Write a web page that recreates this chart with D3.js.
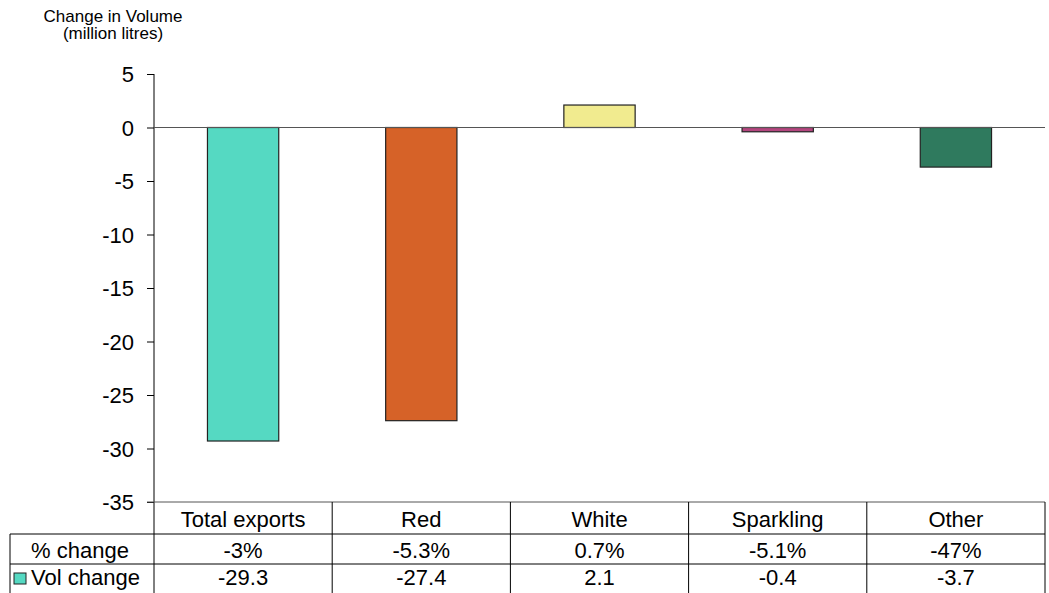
<!DOCTYPE html>
<html>
<head>
<meta charset="utf-8">
<script src="https://cdn.jsdelivr.net/npm/d3@7"></script>
<style>
  body { margin: 0; background: #fff; }
  text { font-family: "Liberation Sans", Arial, sans-serif; fill: #000; }
</style>
</head>
<body>
<div class="viz"></div>
<script>
// data
var categories = ["Total exports", "Red", "White", "Sparkling", "Other"];
var volChange = [-29.3, -27.4, 2.1, -0.4, -3.7];
var pctChange = ["-3%", "-5.3%", "0.7%", "-5.1%", "-47%"];
var yTicks = [5, 0, -5, -10, -15, -20, -25, -30, -35];
var barColors = ["#55d9c2", "#d66228", "#f1eb8f", "#b4467f", "#2f7a5e"];

// dimensions
var width = 1049, height = 593;
var plot = { left: 154, right: 1045, top: 74, bottom: 502 };
var fontSize = "22px";

var svg = d3.select(".viz")
  .append("svg")
  .attr("width", width)
  .attr("height", height);

// scales
var yScale = d3.scaleLinear()
  .domain([-35, 5])
  .range([plot.bottom, plot.top]);

var colScale = d3.scaleBand()
  .domain(categories)
  .range([plot.left, plot.right])
  .padding(0);

var barScale = d3.scaleBand()
  .domain(categories)
  .range([plot.left, plot.right])
  .paddingInner(0.6)
  .paddingOuter(0.3);

// y axis (plain hyphen for negatives)
var yAxis = d3.axisLeft(yScale)
  .tickValues(yTicks)
  .tickSize(7)
  .tickPadding(13)
  .tickFormat(d => String(d));

var gY = svg.append("g")
  .attr("transform", "translate(" + plot.left + ",0)")
  .call(yAxis);
gY.select(".domain").remove();
gY.selectAll(".tick line").attr("stroke", "#000");
gY.selectAll(".tick text")
  .style("font-size", fontSize)
  .attr("dy", "0.36em");

// axis vertical line, extends down through table
svg.append("line")
  .attr("x1", plot.left).attr("x2", plot.left)
  .attr("y1", plot.top).attr("y2", height)
  .attr("stroke", "#000");

// bars
svg.selectAll(".bar")
  .data(volChange)
  .enter()
  .append("rect")
  .attr("class", "bar")
  .attr("x", (d, i) => barScale(categories[i]))
  .attr("width", barScale.bandwidth())
  .attr("y", d => yScale(Math.max(0, d)))
  .attr("height", d => Math.abs(yScale(d) - yScale(0)))
  .attr("fill", (d, i) => barColors[i])
  .attr("stroke", "#222")
  .attr("stroke-width", 1.2);

// zero line
svg.append("line")
  .attr("x1", plot.left).attr("x2", plot.right)
  .attr("y1", yScale(0)).attr("y2", yScale(0))
  .attr("stroke", "#555");

// bottom axis line
svg.append("line")
  .attr("x1", plot.left - 7).attr("x2", plot.right)
  .attr("y1", plot.bottom).attr("y2", plot.bottom)
  .attr("stroke", "#555");

// title
var title = svg.append("text")
  .attr("text-anchor", "middle")
  .style("font-size", "17px");
title.append("tspan").attr("x", 113).attr("y", 22).text("Change in Volume");
title.append("tspan").attr("x", 113).attr("y", 39).text("(million litres)");

// data table
var row1 = plot.bottom, row2 = 534, row3 = 564, rowEnd = height + 2;
var tableLeft = 10;

// horizontal lines
[row2, row3].forEach(y => {
  svg.append("line")
    .attr("x1", tableLeft).attr("x2", plot.right)
    .attr("y1", y).attr("y2", y)
    .attr("stroke", "#000");
});

// left border of table
svg.append("line")
  .attr("x1", tableLeft).attr("x2", tableLeft)
  .attr("y1", row2).attr("y2", rowEnd)
  .attr("stroke", "#000");

// vertical lines between categories
categories.forEach(c => {
  var x = colScale(c) + colScale.bandwidth();
  svg.append("line")
    .attr("x1", x).attr("x2", x)
    .attr("y1", row1).attr("y2", rowEnd)
    .attr("stroke", "#000");
});

// category labels
svg.selectAll(".cat-label")
  .data(categories)
  .enter()
  .append("text")
  .attr("class", "cat-label")
  .attr("x", d => colScale(d) + colScale.bandwidth() / 2)
  .attr("y", 527)
  .attr("text-anchor", "middle")
  .style("font-size", fontSize)
  .text(d => d);

// % change row
svg.selectAll(".pct-label")
  .data(pctChange)
  .enter()
  .append("text")
  .attr("class", "pct-label")
  .attr("x", (d, i) => colScale(categories[i]) + colScale.bandwidth() / 2)
  .attr("y", 558)
  .attr("text-anchor", "middle")
  .style("font-size", fontSize)
  .text(d => d);

// vol change row
svg.selectAll(".vol-label")
  .data(volChange)
  .enter()
  .append("text")
  .attr("class", "vol-label")
  .attr("x", (d, i) => colScale(categories[i]) + colScale.bandwidth() / 2)
  .attr("y", 585)
  .attr("text-anchor", "middle")
  .style("font-size", fontSize)
  .text(d => d.toFixed(1));

// row headers
svg.append("text")
  .attr("x", 80)
  .attr("y", 558)
  .attr("text-anchor", "middle")
  .style("font-size", fontSize)
  .text("% change");

svg.append("rect")
  .attr("x", 14).attr("y", 573)
  .attr("width", 12).attr("height", 11)
  .attr("fill", barColors[0])
  .attr("stroke", "#222");

svg.append("text")
  .attr("x", 31)
  .attr("y", 585)
  .style("font-size", fontSize)
  .text("Vol change");
</script>
</body>
</html>
